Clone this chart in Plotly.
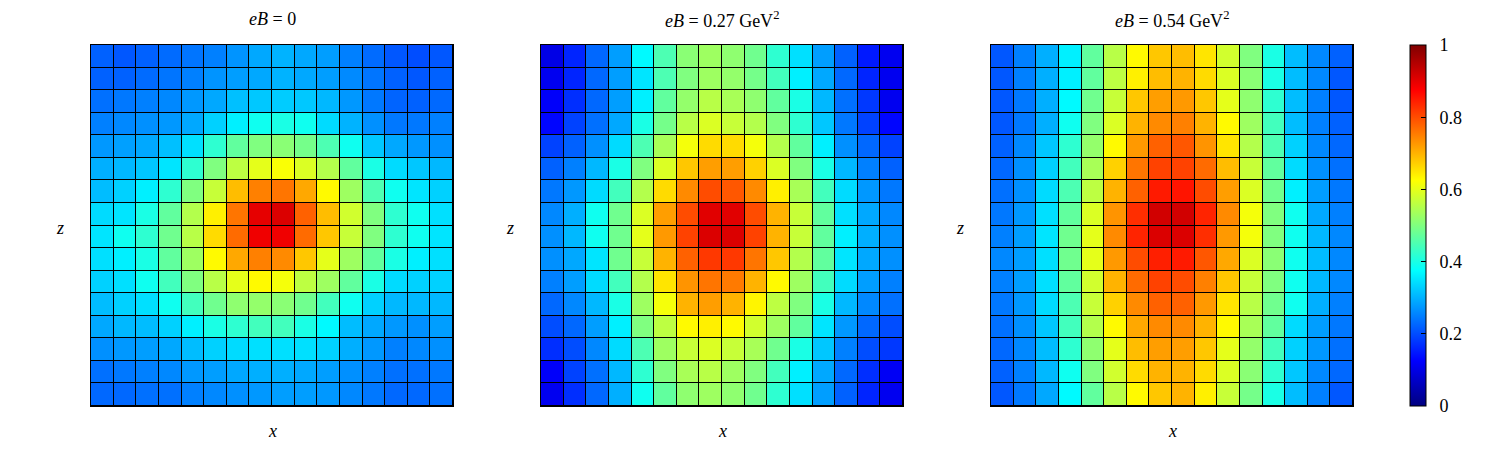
import plotly.graph_objects as go

# values, rows listed top (row 0) to bottom (row 15)
eb0 = [
    [0.22,0.21,0.22,0.23,0.24,0.25,0.27,0.29,0.30,0.29,0.28,0.25,0.23,0.21,0.20,0.21],
    [0.22,0.22,0.23,0.24,0.25,0.27,0.28,0.29,0.30,0.29,0.28,0.26,0.24,0.22,0.21,0.22],
    [0.235,0.243,0.25,0.258,0.274,0.29,0.313,0.321,0.325,0.321,0.305,0.274,0.243,0.223,0.22,0.228],
    [0.25,0.258,0.266,0.274,0.29,0.33,0.36,0.39,0.40,0.39,0.34,0.30,0.266,0.243,0.243,0.25],
    [0.274,0.282,0.29,0.313,0.345,0.42,0.47,0.50,0.51,0.49,0.45,0.39,0.32,0.29,0.274,0.266],
    [0.297,0.305,0.32,0.35,0.42,0.50,0.56,0.60,0.62,0.59,0.55,0.47,0.40,0.34,0.32,0.305],
    [0.31,0.33,0.36,0.42,0.50,0.57,0.69,0.75,0.76,0.71,0.63,0.53,0.45,0.39,0.35,0.33],
    [0.34,0.35,0.40,0.47,0.55,0.64,0.76,0.90,0.91,0.78,0.69,0.58,0.50,0.42,0.39,0.345],
    [0.35,0.39,0.42,0.485,0.555,0.66,0.77,0.89,0.89,0.77,0.68,0.57,0.50,0.42,0.39,0.35],
    [0.345,0.36,0.40,0.47,0.53,0.63,0.71,0.75,0.74,0.68,0.60,0.53,0.47,0.40,0.36,0.345],
    [0.33,0.345,0.39,0.44,0.50,0.555,0.60,0.63,0.615,0.56,0.53,0.47,0.40,0.34,0.33,0.33],
    [0.31,0.33,0.345,0.39,0.44,0.485,0.515,0.52,0.51,0.485,0.44,0.39,0.33,0.305,0.305,0.305],
    [0.29,0.305,0.31,0.33,0.36,0.40,0.42,0.44,0.44,0.40,0.37,0.31,0.29,0.274,0.266,0.28],
    [0.266,0.274,0.28,0.29,0.31,0.33,0.34,0.345,0.345,0.345,0.33,0.297,0.274,0.25,0.258,0.266],
    [0.235,0.243,0.25,0.258,0.274,0.28,0.29,0.297,0.297,0.29,0.28,0.266,0.25,0.235,0.235,0.243],
    [0.227,0.227,0.235,0.235,0.25,0.258,0.266,0.274,0.28,0.28,0.274,0.258,0.243,0.227,0.227,0.235],
]

eb027 = [
    [0.10,0.16,0.227,0.28,0.37,0.45,0.51,0.53,0.515,0.485,0.42,0.345,0.28,0.22,0.15,0.11],
    [0.11,0.16,0.227,0.28,0.35,0.45,0.50,0.53,0.52,0.49,0.44,0.36,0.29,0.227,0.16,0.11],
    [0.12,0.17,0.227,0.28,0.36,0.47,0.52,0.555,0.54,0.515,0.47,0.40,0.305,0.235,0.18,0.11],
    [0.13,0.19,0.235,0.29,0.40,0.49,0.555,0.59,0.57,0.55,0.50,0.42,0.32,0.243,0.19,0.13],
    [0.19,0.22,0.266,0.34,0.45,0.54,0.615,0.66,0.66,0.615,0.55,0.47,0.36,0.266,0.227,0.19],
    [0.22,0.25,0.305,0.40,0.50,0.59,0.68,0.72,0.72,0.67,0.59,0.50,0.40,0.305,0.25,0.22],
    [0.243,0.274,0.34,0.44,0.55,0.66,0.74,0.80,0.79,0.74,0.64,0.54,0.44,0.34,0.274,0.243],
    [0.258,0.297,0.39,0.485,0.59,0.72,0.80,0.905,0.905,0.80,0.70,0.57,0.47,0.345,0.29,0.258],
    [0.266,0.305,0.39,0.485,0.60,0.725,0.81,0.91,0.91,0.81,0.70,0.57,0.47,0.36,0.297,0.266],
    [0.266,0.29,0.35,0.485,0.57,0.70,0.78,0.82,0.82,0.76,0.68,0.55,0.47,0.35,0.29,0.266],
    [0.25,0.28,0.34,0.44,0.55,0.65,0.73,0.76,0.755,0.70,0.63,0.53,0.44,0.34,0.28,0.25],
    [0.227,0.258,0.305,0.40,0.53,0.615,0.70,0.72,0.70,0.635,0.56,0.50,0.40,0.305,0.258,0.235],
    [0.20,0.227,0.28,0.36,0.50,0.56,0.63,0.64,0.63,0.58,0.53,0.47,0.35,0.274,0.227,0.20],
    [0.17,0.20,0.258,0.34,0.45,0.53,0.57,0.59,0.57,0.54,0.485,0.40,0.32,0.25,0.20,0.18],
    [0.12,0.19,0.235,0.305,0.42,0.50,0.54,0.555,0.53,0.50,0.44,0.36,0.29,0.227,0.17,0.115],
    [0.11,0.17,0.227,0.297,0.39,0.47,0.515,0.53,0.515,0.485,0.42,0.345,0.28,0.22,0.16,0.11],
]

eb054 = [
    [0.21,0.25,0.297,0.36,0.47,0.555,0.63,0.68,0.69,0.65,0.58,0.50,0.40,0.31,0.258,0.22],
    [0.21,0.25,0.297,0.36,0.47,0.56,0.64,0.69,0.70,0.66,0.59,0.51,0.40,0.31,0.258,0.21],
    [0.21,0.243,0.297,0.37,0.485,0.57,0.68,0.72,0.725,0.68,0.60,0.515,0.42,0.31,0.25,0.21],
    [0.21,0.243,0.297,0.39,0.50,0.59,0.70,0.74,0.75,0.70,0.63,0.53,0.44,0.31,0.25,0.22],
    [0.22,0.258,0.32,0.42,0.52,0.63,0.725,0.78,0.79,0.73,0.65,0.55,0.45,0.33,0.258,0.227],
    [0.227,0.266,0.33,0.44,0.54,0.67,0.76,0.81,0.81,0.77,0.69,0.57,0.47,0.34,0.266,0.235],
    [0.235,0.266,0.34,0.45,0.56,0.70,0.78,0.85,0.855,0.80,0.72,0.59,0.485,0.36,0.28,0.243],
    [0.243,0.274,0.345,0.47,0.59,0.73,0.83,0.92,0.92,0.84,0.74,0.615,0.50,0.39,0.29,0.25],
    [0.25,0.28,0.35,0.485,0.60,0.74,0.84,0.91,0.91,0.83,0.725,0.615,0.50,0.39,0.305,0.258],
    [0.258,0.28,0.345,0.485,0.60,0.725,0.80,0.845,0.85,0.79,0.71,0.59,0.51,0.39,0.31,0.258],
    [0.25,0.28,0.345,0.47,0.58,0.70,0.77,0.81,0.80,0.75,0.68,0.57,0.50,0.39,0.305,0.258],
    [0.243,0.274,0.34,0.45,0.57,0.67,0.74,0.78,0.78,0.725,0.65,0.555,0.485,0.39,0.297,0.25],
    [0.235,0.266,0.32,0.44,0.55,0.63,0.71,0.74,0.74,0.70,0.63,0.54,0.47,0.34,0.28,0.243],
    [0.227,0.258,0.31,0.42,0.515,0.60,0.69,0.72,0.72,0.68,0.60,0.52,0.44,0.33,0.274,0.235],
    [0.22,0.25,0.305,0.39,0.50,0.58,0.66,0.70,0.70,0.66,0.59,0.51,0.42,0.32,0.258,0.227],
    [0.21,0.243,0.29,0.37,0.47,0.555,0.63,0.68,0.70,0.64,0.57,0.49,0.40,0.31,0.25,0.21],
]

panels = [eb0, eb027, eb054]
titles = ["<i>eB</i> = 0", "<i>eB</i> = 0.27 GeV<sup>2</sup>", "<i>eB</i> = 0.54 GeV<sup>2</sup>"]
cbar_ticks = [0, 0.2, 0.4, 0.6, 0.8, 1]
cbar_text = ["0", "0.2", "0.4", "0.6", "0.8", "1"]
cells = list(range(16))

jet = [
    [0.0, "rgb(0,0,128)"],
    [0.125, "rgb(0,0,255)"],
    [0.375, "rgb(0,255,255)"],
    [0.625, "rgb(255,255,0)"],
    [0.875, "rgb(255,0,0)"],
    [1.0, "rgb(128,0,0)"],
]

FONT = "Liberation Serif, Times New Roman, serif"
FS = 18
W, H = 1500, 450
x_px = [(91, 453), (541, 903), (991, 1353)]
y_top, y_bot = 45, 406

fig = go.Figure()
for i, (z, (x0, x1)) in enumerate(zip(panels, x_px)):
    n = "" if i == 0 else str(i + 1)
    fig.add_trace(go.Heatmap(
        z=z, x=cells, y=cells,
        xaxis="x" + n, yaxis="y" + n,
        colorscale=jet, zmin=0, zmax=1,
        xgap=1, ygap=1,
        showscale=(i == 0),
        colorbar=dict(
            x=1410 / W, xanchor="left", xpad=0,
            y=1 - 225.5 / H, yanchor="middle", ypad=0,
            len=(406 - 45) / H, lenmode="fraction",
            thickness=16, thicknessmode="pixels",
            outlinecolor="black", outlinewidth=1,
            tickvals=cbar_ticks,
            ticktext=["\u00a0\u00a0" + t for t in cbar_text],
            ticks="inside", ticklen=5, tickcolor="black",
            tickfont=dict(family=FONT, size=FS, color="black"),
        ),
    ))
    dom_x = [x0 / W, x1 / W]
    dom_y = [1 - y_bot / H, 1 - y_top / H]
    fig.update_layout(**{
        "xaxis" + n: dict(domain=dom_x, range=[-0.5, 15.5], showticklabels=False,
                          showgrid=False, zeroline=False, ticks="",
                          showline=True, linecolor="black", linewidth=1, mirror=True,
                          anchor="y" + n),
        "yaxis" + n: dict(domain=dom_y, range=[15.5, -0.5], showticklabels=False,
                          showgrid=False, zeroline=False, ticks="",
                          showline=True, linecolor="black", linewidth=1, mirror=True,
                          anchor="x" + n),
    })
    cx = (x0 + x1) / 2 / W
    fig.add_annotation(text=titles[i], x=cx, y=1 - 19 / H, xref="paper", yref="paper",
                       xanchor="center", yanchor="middle",
                       showarrow=False, font=dict(family=FONT, size=FS, color="black"))
    fig.add_annotation(text="<i>x</i>", x=cx, y=1 - 431 / H, xref="paper", yref="paper",
                       xanchor="center", yanchor="middle",
                       showarrow=False, font=dict(family=FONT, size=FS, color="black"))
    fig.add_annotation(text="<i>z</i>", x=(x0 - 31) / W, y=1 - 228 / H, xref="paper", yref="paper",
                       xanchor="center", yanchor="middle",
                       showarrow=False, font=dict(family=FONT, size=FS, color="black"))

fig.update_layout(
    width=W, height=H,
    margin=dict(l=0, r=0, t=0, b=0),
    paper_bgcolor="white", plot_bgcolor="black",
    showlegend=False,
)

fig.write_html("out.html")
